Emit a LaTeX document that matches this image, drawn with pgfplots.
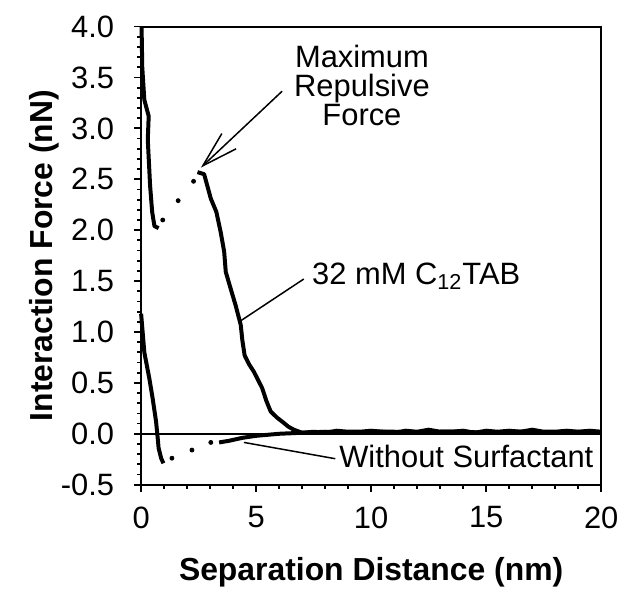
\documentclass[border=0pt]{standalone}
\usepackage{fontspec}
\setmainfont{Liberation Sans}
\usepackage{pgfplots}
\pgfplotsset{compat=1.18}
\usetikzlibrary{arrows.meta}

% data
\pgfplotstableread{
x y
0.02 4.00
0.05 3.60
0.14 3.28
0.33 3.12
0.29 2.89
0.39 2.44
0.48 2.18
0.58 2.04
0.76 2.02
}\approachA
\pgfplotstableread{
x y
0.94 2.10
1.61 2.29
2.28 2.48
}\dotsA
\pgfplotstableread{
x y
2.45 2.57
2.74 2.55
3.03 2.31
3.27 2.18
3.46 1.98
3.61 1.79
3.68 1.59
3.90 1.42
4.11 1.26
4.33 1.07
4.40 0.92
4.50 0.77
4.70 0.68
4.90 0.61
5.26 0.45
5.45 0.32
5.63 0.22
5.90 0.16
6.13 0.12
6.40 0.07
6.64 0.04
7.00 0.01
7.50 0.02
8.00 0.01
8.50 0.03
9.00 0.02
9.50 0.02
10.0 0.03
10.5 0.02
11.0 0.01
11.5 0.03
12.0 0.02
12.5 0.04
13.0 0.02
13.5 0.02
14.0 0.03
14.5 0.01
15.0 0.03
15.5 0.02
16.0 0.03
16.5 0.02
17.0 0.04
17.5 0.02
18.0 0.02
18.5 0.03
19.0 0.02
19.5 0.03
20.0 0.02
}\mmA
\pgfplotstableread{
x y
0.00 1.18
0.14 0.80
0.36 0.54
0.50 0.35
0.65 0.12
0.72 -0.04
0.76 -0.14
0.87 -0.24
0.97 -0.29
}\approachB
\pgfplotstableread{
x y
1.34 -0.24
2.21 -0.16
3.03 -0.085
}\dotsB
\pgfplotstableread{
x y
3.39 -0.085
3.80 -0.07
4.40 -0.04
5.00 -0.02
6.00 0.00
7.00 0.01
8.00 0.02
9.00 0.01
10.0 0.02
11.0 0.02
12.0 0.01
13.0 0.02
14.0 0.02
15.0 0.01
16.0 0.02
17.0 0.02
18.0 0.01
19.0 0.02
20.0 0.01
}\noSurf

\begin{document}
\begin{tikzpicture}
\begin{axis}[
  scale only axis, width=231pt, height=230pt,
  xmin=0, xmax=20, ymin=-0.5, ymax=4,
  xtick={0,5,...,20}, ytick={-0.5,0,...,4},
  minor x tick num=4, minor y tick num=4,
  xtick pos=left, ytick pos=left, tick align=outside,
  major tick length=3.5pt, minor tick length=2pt,
  axis line style={line width=1pt},
  every tick/.style={black, line width=0.9pt},
  tick label style={font=\fontsize{15.5}{18}\selectfont},
  /pgf/number format/assume math mode=true,
  yticklabel style={/pgf/number format/fixed, /pgf/number format/fixed zerofill, /pgf/number format/precision=1, xshift=-6.5pt},
  xticklabel style={yshift=-4pt},
  xlabel={\bfseries Separation Distance (nm)},
  ylabel={\bfseries Interaction Force (nN)},
  label style={font=\fontsize{16}{19}\selectfont},
  xlabel style={at={(axis description cs:0.5,-0.191)}, anchor=center},
  ylabel style={at={(axis description cs:-0.21,0.5)}, anchor=center, rotate=0},
  clip=false,
]
\coordinate (o) at (rel axis cs:0,0);
\addplot[black, line width=0.75pt] coordinates {(0,0) (20,0)};
\addplot[black, line width=2pt, line join=round] table {\approachA};
\addplot[black, only marks, mark=*, mark size=1pt] table {\dotsA};
\addplot[black, line width=2pt, line join=round] table {\mmA};
\addplot[black, line width=2pt, line join=round] table {\approachB};
\addplot[black, only marks, mark=*, mark size=1pt] table {\dotsB};
\addplot[black, line width=2pt, line join=round] table {\noSurf};

\draw[line width=0.75pt, -{Straight Barb[length=18pt,width=10.5pt,line width=0.75pt]}] (axis cs:6.13,3.365) -- (axis cs:2.6,2.615);
\draw[line width=0.75pt] (axis cs:7.07,1.52) -- (axis cs:4.33,1.11);
\draw[line width=0.75pt] (axis cs:8.44,-0.245) -- (axis cs:4.47,-0.085);

\node[font=\fontsize{15.5}{14.5}\selectfont, align=center, anchor=north, inner sep=0pt] at (axis cs:9.6,3.82) {Maximum\\Repulsive\\Force};
\node[font=\fontsize{15.5}{18}\selectfont, anchor=base west, inner sep=0pt] at (axis cs:7.42,1.47) {32 mM C\textsubscript{12}TAB};
\node[font=\fontsize{15.5}{18}\selectfont, anchor=base west, inner sep=0pt] at (axis cs:8.6,-0.327) {Without Surfactant};
\end{axis}
\path (o) ++(-70.85pt,-53.15pt) rectangle ++(312.5pt,296.5pt);
\end{tikzpicture}
\end{document}
